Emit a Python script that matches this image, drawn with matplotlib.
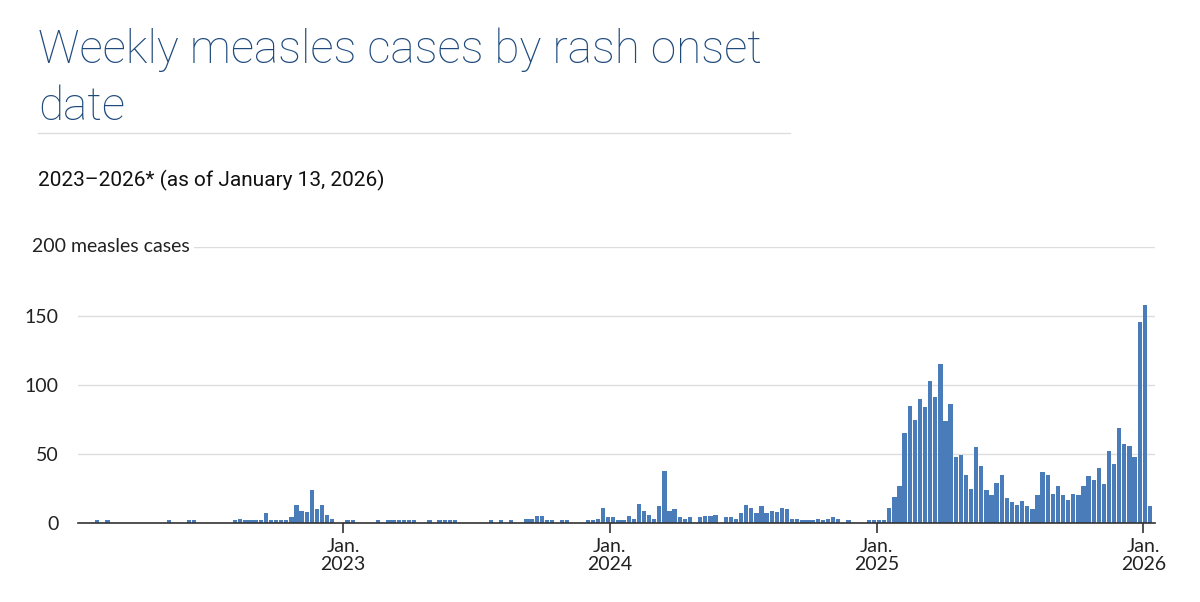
"""
Weekly measles cases by rash onset date (week ending Saturday), 2022 to Jan 2026.
Values read off the published bar chart.
"""

import numpy as np
import pandas as pd
import matplotlib.pyplot as plt
from matplotlib.lines import Line2D

TITLE = "Weekly measles cases by rash onset\ndate"
SUBTITLE = "2023\u20132026* (as of January 13, 2026)"
Y_UNIT = "200 measles cases"

FIRST_WEEK = "2022-01-01"   # week ending Saturday

# ── data ──────────────────────────────────────────────────────────────────────

cases_2022 = [0, 0, 0, 0, 2, 0, 2, 0, 0, 0, 0, 0, 0, 0, 0, 0, 0, 0, 2, 0, 0, 0, 2, 2, 0, 0,
              0, 0, 0, 0, 0, 2, 3, 2, 2, 2, 2, 7, 2, 2, 2, 2, 4, 13, 9, 8, 24, 10, 13, 6, 3, 0]
cases_2023 = [0, 2, 2, 0, 0, 0, 0, 2, 0, 2, 2, 2, 2, 2, 2, 0, 0, 2, 0, 2, 2, 2, 2, 0, 0, 0,
              0, 0, 0, 2, 0, 2, 0, 2, 0, 0, 3, 3, 5, 5, 2, 2, 0, 2, 2, 0, 0, 0, 2, 2, 3, 11]
cases_2024 = [4, 4, 2, 2, 5, 3, 14, 9, 6, 3, 12, 38, 9, 10, 4, 3, 4, 0, 4, 5, 5, 6, 0, 4, 4, 3,
              7, 13, 11, 7, 12, 7, 9, 8, 11, 10, 3, 3, 2, 2, 2, 3, 2, 3, 4, 3, 0, 2, 0, 0, 0, 2]
cases_2025 = [2, 2, 2, 11, 19, 27, 65, 85, 75, 90, 84, 103, 91, 115, 74, 86, 48, 49, 35, 25,
              55, 41, 24, 20, 29, 35, 18, 15, 13, 16, 12, 10, 20, 37, 35, 21, 27, 20, 17, 21,
              20, 27, 34, 31, 40, 28, 52, 43, 69, 57, 56, 48, 146, 158, 12]

cases = cases_2022 + cases_2023 + cases_2024 + cases_2025
weeks = pd.date_range(FIRST_WEEK, periods=len(cases), freq="7D")

year_ticks = pd.to_datetime(["2023-01-01", "2024-01-01", "2025-01-01", "2026-01-01"])
year_labels = ["Jan.\n2023", "Jan.\n2024", "Jan.\n2025", "Jan.\n2026"]
y_ticks = [0, 50, 100, 150, 200]

# ── plot ───────────────────────────────────────────────────────────────────────

plt.rcParams["font.family"] = ["Lato", "DejaVu Sans"]

W, H = 1200, 602
fig = plt.figure(figsize=(W / 100, H / 100), dpi=100)
fig.patch.set_facecolor("white")

# header (baseline of the last line at y=120 px)
fig.text(38 / W, 1 - 120 / H, TITLE, fontsize=33, color="#1f4a7c",
         family=["Roboto", "DejaVu Sans"], fontweight="light",
         ha="left", va="baseline", linespacing=1.38)
fig.add_artist(Line2D([38 / W, 790 / W], [1 - 133 / H] * 2,
                      color="#dddddd", linewidth=1, transform=fig.transFigure))
fig.text(38 / W, 1 - 180 / H, SUBTITLE, fontsize=15, color="#111111",
         ha="left", va="center", family=["Roboto", "DejaVu Sans"])

# chart area
left, right, top, bottom = 78, 1155, 247, 523
ax = fig.add_axes([left / W, 1 - bottom / H, (right - left) / W, (bottom - top) / H])

ax.bar(weeks, cases, width=5.9, color="#4a7cb9", linewidth=0, zorder=3)

ax.set_xlim(pd.Timestamp("2022-01-01") + pd.Timedelta(days=1.7),
            pd.Timestamp("2026-01-01") + pd.Timedelta(days=16))
ax.set_ylim(0, 200)

ax.set_yticks(y_ticks)
ax.set_yticklabels(["0", "50", "100", "150", ""])
ax.grid(axis="y", color="#dddddd", linewidth=1, zorder=0)
ax.set_xticks(year_ticks)
ax.set_xticklabels(year_labels, linespacing=1.05)

for side in ["top", "right", "left"]:
    ax.spines[side].set_visible(False)
ax.spines["bottom"].set_color("#333333")
ax.spines["bottom"].set_linewidth(1.2)
ax.spines["bottom"].set_zorder(4)

ax.tick_params(axis="y", length=0, labelsize=14, pad=14, colors="#222222")
ax.tick_params(axis="x", length=7, width=1.2, color="#333333",
               labelsize=14, pad=4, labelcolor="#222222")

# "200 measles cases" sits in place of the top tick label, covering the grid start
ax.text(-0.0428, 200, Y_UNIT, transform=ax.get_yaxis_transform(),
        fontsize=14, color="#222222", ha="left", va="center",
        bbox=dict(facecolor="white", edgecolor="none", pad=3), zorder=5)

fig.savefig("out.png", dpi=100, facecolor="white")
